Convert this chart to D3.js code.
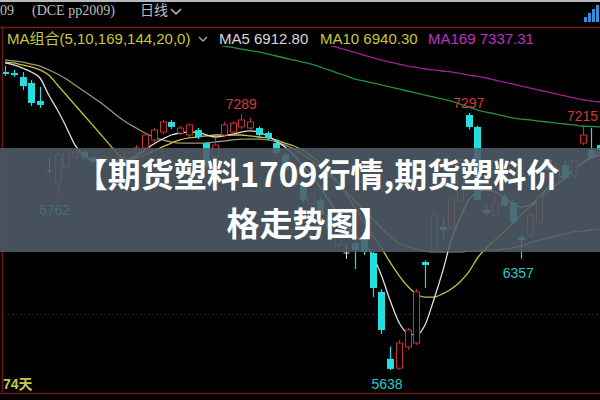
<!DOCTYPE html>
<html><head><meta charset="utf-8">
<script src="https://cdn.jsdelivr.net/npm/d3@7/dist/d3.min.js"></script>
<style>html,body{margin:0;padding:0;background:#000;overflow:hidden}svg{display:block}</style>
</head><body>
<svg id="c" width="600" height="400"></svg>
<script>
// ---- data (daily candles) ----
const open  = [7562,7555,7529,7491,7374,6923,6852,6948,7013,7045,7007,6990,6981,6994,7007,7039,7071,7123,7174,7239,7168,7155,7187,7103,7013,7155,7174,7207,7200,7200,7168,7103,7026,6929,6832,6710,6735,6639,6445,6393,6458,6477,6393,6142,5710,5650,5787,5812,6335,6413,6561,6561,6735,7284,7207,6671,6640,6760,6716,6497,6510,6587,6994,6850,6961,6890,7103,7058,7090];
const high  = [7600,7575,7562,7510,7465,7007,7045,7071,7065,7058,7020,7013,7013,7007,7058,7090,7168,7200,7252,7252,7213,7230,7200,7110,7136,7239,7245,7289,7265,7210,7180,7123,7039,6942,6845,6790,6755,6650,6590,6445,6470,6500,6400,6160,5790,5830,5910,6160,6345,6660,6620,6755,7013,7297,7215,6700,6760,6775,6740,6510,6660,6770,7010,6960,6990,7000,7215,7200,7110];
const low   = [7536,7530,7445,7342,7329,6910,6762,6930,7000,7000,6968,6975,6968,6961,6994,7026,7058,7110,7160,7194,7155,7140,7130,6930,6950,7140,7160,7194,7187,7140,7123,7026,6910,6815,6720,6690,6620,6540,6430,6355,6290,6380,6109,5870,5638,5640,5770,5800,6167,6400,6480,6540,6720,7190,6730,6630,6630,6690,6580,6357,6490,6570,6910,6830,6860,6875,7090,7000,7050];
const close = [7549,7542,7471,7362,7349,6923,7026,7058,7045,7013,6981,6998,7000,6974,7045,7071,7155,7187,7239,7207,7200,7220,7142,6948,7090,7220,7232,7252,7239,7155,7136,7039,6929,6832,6735,6768,6639,6555,6574,6393,6413,6400,6167,5896,5645,5812,5896,6142,6316,6639,6542,6735,6994,7207,6735,6652,6720,6700,6593,6477,6639,6755,6929,6940,6877,6990,7155,7013,7058];

const ma5   = [7620,7607,7587,7562,7523,7413,7316,7207,7090,7026,6994,6987,6981,6981,6994,7019,7058,7097,7129,7155,7168,7174,7174,7155,7142,7149,7161,7174,7181,7174,7149,7116,7078,7026,6961,6897,6819,6735,6652,6574,6509,6458,6380,6251,6090,5948,5877,5864,5929,6090,6271,6477,6619,6735,6787,6800,6787,6755,6716,6690,6703,6748,6813,6865,6897,6929,6974,7007,7026];
const ma10  = [7626,7620,7607,7594,7575,7542,7478,7413,7349,7284,7220,7155,7090,7026,6994,7007,7026,7052,7078,7103,7123,7136,7142,7149,7155,7155,7155,7155,7149,7142,7136,7123,7103,7084,7058,7019,6974,6916,6852,6768,6684,6593,6509,6426,6335,6251,6180,6129,6109,6109,6129,6161,6206,6271,6361,6426,6477,6529,6587,6639,6690,6735,6787,6832,6877,6929,6974,7013,7045];
const ma20  = [7639,7633,7626,7613,7600,7575,7549,7516,7478,7439,7400,7362,7316,7271,7232,7200,7168,7142,7123,7110,7103,7103,7103,7103,7110,7116,7123,7129,7129,7129,7123,7110,7090,7065,7032,6994,6948,6897,6845,6787,6729,6671,6613,6555,6503,6458,6432,6419,6406,6400,6400,6400,6400,6406,6406,6413,6413,6419,6426,6439,6458,6477,6490,6503,6516,6529,6535,6542,6548];
const ma144 = [null,null,null,null,null,null,null,null,null,null,null,null,null,null,null,null,null,null,null,null,null,null,null,null,7742,7729,7720,7710,7700,7691,7678,7665,7652,7639,7626,7613,7594,7575,7555,7536,7516,7504,7491,7478,7465,7452,7439,7426,7413,7400,7387,7374,7355,7336,7316,7303,7291,7278,7265,7258,7252,7245,7239,7232,7226,7220,7213,7210,7207];
const ma169 = [null,null,null,null,null,null,null,null,null,null,null,null,null,null,null,null,null,null,null,null,null,null,null,null,null,null,null,null,null,null,null,null,null,null,null,null,null,7736,7720,7704,7688,7671,7655,7639,7626,7613,7600,7591,7581,7575,7568,7562,7552,7542,7533,7523,7510,7497,7484,7471,7458,7445,7433,7420,7407,7394,7384,7374,7368];

const highMarks = [[27,7289],[53,7297],[66,7215]];
const lowMarks  = [[6,6762],[59,6357],[44,5638]];
const gridPrices = [6000];

const headerTexts = ["09","(DCE pp2009)","日线"];
const maTitle = "MA组合(5,10,169,144,20,0)";
const maLegend = [["MA5 6912.80","#d8d8d8"],["MA10 6940.30","#c8c838"],["MA169 7337.31","#c030c0"]];
const dayCount = "74天";
const titleLines = ["【期货塑料1709行情,期货塑料价","格走势图】"];

// ---- drawing ----
const svg = d3.select("#c");
const W = 600, H = 400;
const N = open.length;
const x = d3.scaleLinear().domain([0, N-1]).range([5, 600]);
const y = d3.scaleLinear().domain([5638, 7297]).range([370, 113]);

svg.append("rect").attr("width",W).attr("height",H).attr("fill","#000");
svg.append("rect").attr("width",W).attr("height",2).attr("fill","#b8b8b8");

// header row 1
const hx = [0, 32, 140];
svg.selectAll("text.h1").data(headerTexts).join("text")
  .attr("x",(d,i)=>hx[i]).attr("y",15)
  .attr("fill","#bdbdbd").attr("font-size",14)
  .attr("font-family","'Liberation Serif','Noto Sans CJK SC',serif")
  .text(d=>d);
svg.append("path").attr("d","M171,9 L176,14 L181,9").attr("fill","none").attr("stroke","#bdbdbd").attr("stroke-width",1.5);

// icon top-right
const iconBars = [5,9,13,17];
svg.selectAll("rect.ic").data(iconBars).join("rect")
  .attr("x",(d,i)=>584+i*4).attr("y",d=>22-d).attr("width",3).attr("height",d=>d)
  .attr("fill","#3a8ad8");

// frame
svg.append("line").attr("x1",0).attr("x2",W).attr("y1",27.5).attr("y2",27.5).attr("stroke","#7a1c1c").attr("stroke-width",1.5);
svg.append("line").attr("x1",2.5).attr("x2",2.5).attr("y1",27).attr("y2",394).attr("stroke","#6e1616").attr("stroke-width",1.5);
svg.append("line").attr("x1",0).attr("x2",W).attr("y1",393.5).attr("y2",393.5).attr("stroke","#6e1616").attr("stroke-width",1.5);

// MA legend row
svg.append("text").attr("x",7).attr("y",44).attr("fill","#c8c838").attr("font-size",15)
  .attr("font-family","'Liberation Sans','Noto Sans CJK SC',sans-serif").text(maTitle);
svg.append("path").attr("d","M199,37 L203,41 L207,37").attr("fill","none").attr("stroke","#aaa").attr("stroke-width",1.3);
const lx = [219, 320, 428];
svg.selectAll("text.leg").data(maLegend).join("text")
  .attr("x",(d,i)=>lx[i]).attr("y",44).attr("fill",d=>d[1]).attr("font-size",15)
  .attr("font-family","'Liberation Sans',sans-serif").text(d=>d[0]);

// plot
svg.append("clipPath").attr("id","pc").append("rect").attr("x",3).attr("y",46).attr("width",597).attr("height",346);
const g = svg.append("g").attr("clip-path","url(#pc)");

g.selectAll("line.grid").data(gridPrices).join("line")
  .attr("x1",4).attr("x2",W).attr("y1",d=>Math.round(y(d))+0.5).attr("y2",d=>Math.round(y(d))+0.5)
  .attr("stroke","#4a1212").attr("stroke-dasharray","2,2");

const line = arr => d3.line().defined(d=>d!=null).x((d,i)=>x(i)).y(d=>y(d)).curve(d3.curveMonotoneX)(arr);
const lines = [[ma169,"#a0209c"],[ma144,"#23923a"],[ma20,"#9a9680"],[ma10,"#c8c03c"],[ma5,"#e4dede"]];
g.selectAll("path.ma").data(lines).join("path")
  .attr("d",d=>line(d[0])).attr("fill","none").attr("stroke",d=>d[1]).attr("stroke-width",1.3);

const CY = "#22e0e0", RD = "#cc3030";
const bw = 6;
const candles = d3.range(N);
const cg = g.selectAll("g.k").data(candles).join("g");
cg.each(function(i){
  const s = d3.select(this);
  const cx = Math.round(x(i)) + 0.5;
  const o = open[i], c = close[i];
  const top = y(Math.max(o,c)), bot = y(Math.min(o,c));
  if (o === c) {
    s.append("line").attr("x1",cx).attr("x2",cx).attr("y1",y(high[i])).attr("y2",y(low[i])).attr("stroke","#dddddd");
    s.append("line").attr("x1",cx-bw/2).attr("x2",cx+bw/2).attr("y1",top).attr("y2",top).attr("stroke","#dddddd");
  } else if (c > o) {
    s.append("line").attr("x1",cx).attr("x2",cx).attr("y1",y(high[i])).attr("y2",top).attr("stroke",RD);
    s.append("line").attr("x1",cx).attr("x2",cx).attr("y1",bot).attr("y2",y(low[i])).attr("stroke",RD);
    s.append("rect").attr("x",cx-bw/2).attr("y",top).attr("width",bw).attr("height",Math.max(1,bot-top))
      .attr("fill","#000").attr("stroke",RD).attr("stroke-width",1);
  } else {
    s.append("line").attr("x1",cx).attr("x2",cx).attr("y1",y(high[i])).attr("y2",y(low[i])).attr("stroke",CY).attr("stroke-width",1.2);
    s.append("rect").attr("x",cx-bw/2-0.5).attr("y",top).attr("width",bw+1).attr("height",Math.max(2,bot-top)).attr("fill",CY);
  }
});

// extreme labels
g.selectAll("text.hi").data(highMarks).join("text")
  .attr("x",d=>x(d[0])).attr("y",d=>y(d[1])-5).attr("text-anchor","middle")
  .attr("fill","#d03a3a").attr("font-size",14).attr("font-family","'Liberation Sans',sans-serif").text(d=>d[1]);
g.selectAll("text.lo").data(lowMarks).join("text")
  .attr("x",d=>x(d[0])-3).attr("y",d=>y(d[1])+19).attr("text-anchor","middle")
  .attr("fill","#2cc8c8").attr("font-size",14).attr("font-family","'Liberation Sans',sans-serif").text(d=>d[1]);

svg.append("text").attr("x",3).attr("y",389).attr("fill","#c8c848").attr("font-size",14).attr("font-weight","bold")
  .attr("font-family","'Liberation Sans','Noto Sans CJK SC',sans-serif").text(dayCount);

// title banner
svg.append("rect").attr("x",0).attr("y",148).attr("width",W).attr("height",104)
  .attr("fill","rgb(80,92,104)").attr("opacity",0.88);
const titleX = [317, 309];
svg.selectAll("text.title").data(titleLines).join("text")
  .attr("x",(d,i)=>titleX[i]).attr("y",(d,i)=>187+i*49).attr("text-anchor","middle")
  .attr("fill","#ffffff").attr("font-size",33).attr("font-weight","bold")
  .attr("font-family","'Noto Sans CJK SC',sans-serif").text(d=>d);
</script>
</body></html>
